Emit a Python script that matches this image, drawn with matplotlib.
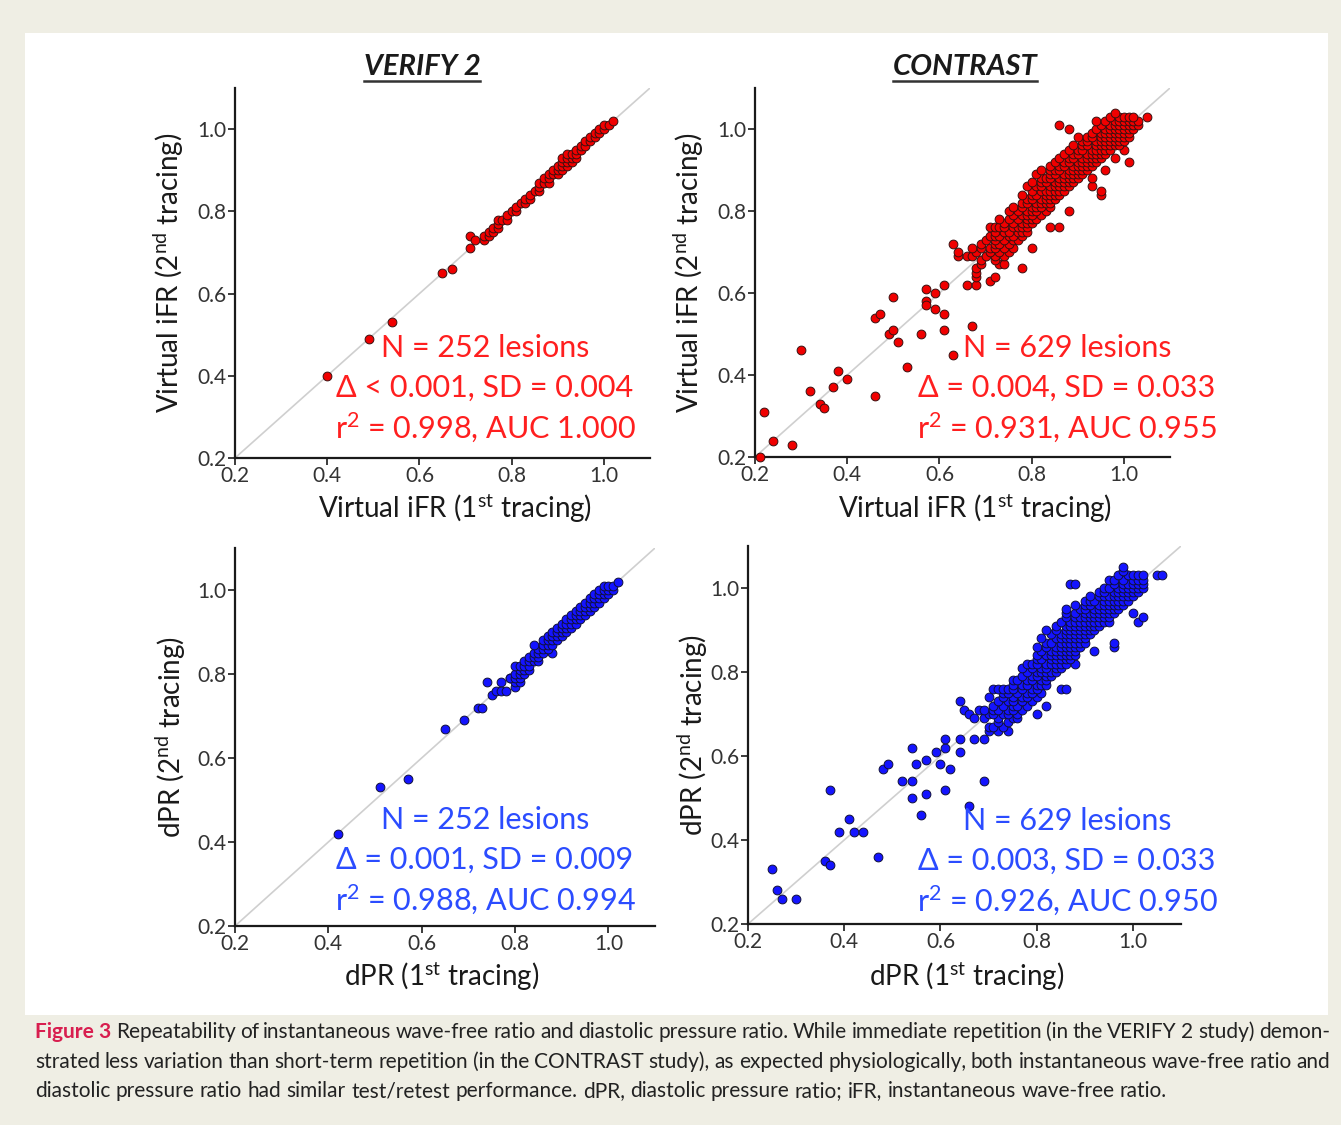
import matplotlib
matplotlib.use("Agg")
import matplotlib.pyplot as plt
from matplotlib import font_manager
from matplotlib.lines import Line2D
from matplotlib.patches import Rectangle

plt.rcParams['font.family'] = ['Lato', 'DejaVu Sans']
plt.rcParams['mathtext.fontset'] = 'custom'
plt.rcParams['mathtext.rm'] = 'Lato'
plt.rcParams['mathtext.it'] = 'Lato:italic'
plt.rcParams['mathtext.bf'] = 'Lato:bold'

# ---- data -----------------------------------------------------------------
ticks = [0.2, 0.4, 0.6, 0.8, 1.0]
tick_labels = ['0.2', '0.4', '0.6', '0.8', '1.0']

# VERIFY 2, virtual iFR: stray points, then the tight band (y: list of x)
verify_ifr_x = [0.40, 0.49, 0.54, 0.65, 0.67, 0.71, 0.71, 0.72]
verify_ifr_y = [0.40, 0.49, 0.53, 0.65, 0.66, 0.71, 0.74, 0.73]
verify_ifr_rows = {
    0.73: [0.74], 0.74: [0.74, 0.75], 0.75: [0.75, 0.76], 0.76: [0.76, 0.77],
    0.77: [0.77], 0.78: [0.77, 0.78, 0.79], 0.79: [0.79], 0.80: [0.80, 0.81],
    0.81: [0.81], 0.82: [0.82, 0.83], 0.83: [0.83, 0.84], 0.84: [0.84],
    0.85: [0.85, 0.86], 0.86: [0.86], 0.87: [0.86, 0.87, 0.88],
    0.88: [0.87, 0.88], 0.89: [0.88, 0.89, 0.90], 0.90: [0.89, 0.90, 0.91],
    0.91: [0.90, 0.91, 0.92], 0.92: [0.91, 0.92, 0.93],
    0.93: [0.91, 0.92, 0.93, 0.94], 0.94: [0.92, 0.93, 0.94],
    0.95: [0.94, 0.95], 0.96: [0.95, 0.96], 0.97: [0.96, 0.97],
    0.98: [0.97, 0.98], 0.99: [0.98, 0.99], 1.00: [0.99, 1.00],
    1.01: [1.00, 1.01], 1.02: [1.02],
}

# CONTRAST, virtual iFR
contrast_ifr_x = [0.21, 0.22, 0.24, 0.28, 0.30, 0.32, 0.34, 0.35, 0.37, 0.38,
                  0.40, 0.46, 0.47, 0.46, 0.50, 0.49, 0.50, 0.51, 0.53, 0.56,
                  0.57, 0.57, 0.57, 0.59, 0.59, 0.61, 0.61, 0.61, 0.63, 0.67,
                  0.66, 0.68, 0.68, 0.68, 0.71, 0.72]
contrast_ifr_y = [0.20, 0.31, 0.24, 0.23, 0.46, 0.36, 0.33, 0.32, 0.37, 0.41,
                  0.39, 0.54, 0.55, 0.35, 0.59, 0.50, 0.51, 0.48, 0.42, 0.50,
                  0.61, 0.58, 0.57, 0.60, 0.56, 0.62, 0.55, 0.51, 0.45, 0.52,
                  0.62, 0.62, 0.64, 0.65, 0.63, 0.64]
contrast_ifr_rows = {
    0.66: [0.68, 0.78], 0.67: [0.69, 0.73, 0.74], 0.68: [0.69, 0.72],
    0.69: [0.64, 0.66, 0.67, 0.70, 0.72, 0.74],
    0.70: [0.64, 0.68, 0.71, 0.73, 0.75],
    0.71: [0.67, 0.69, 0.71, 0.72, 0.74, 0.76, 0.80],
    0.72: [0.63, 0.69, 0.72, 0.73, 0.75],
    0.73: [0.70, 0.72, 0.74, 0.76, 0.77],
    0.74: [0.71, 0.72, 0.73, 0.75, 0.76, 0.78],
    0.75: [0.72, 0.74, 0.75, 0.77, 0.78, 0.79],
    0.76: [0.71, 0.72, 0.73, 0.74, 0.76, 0.77, 0.78, 0.79, 0.84, 0.86],
    0.77: [0.74, 0.76, 0.78, 0.79, 0.80],
    0.78: [0.73, 0.75, 0.77, 0.79, 0.80, 0.81],
    0.79: [0.76, 0.78, 0.79, 0.80, 0.82],
    0.80: [0.75, 0.77, 0.79, 0.80, 0.81, 0.83, 0.88],
    0.81: [0.76, 0.78, 0.80, 0.81, 0.82, 0.84],
    0.82: [0.78, 0.79, 0.81, 0.82, 0.83, 0.84],
    0.83: [0.79, 0.80, 0.82, 0.83, 0.84, 0.85],
    0.84: [0.78, 0.80, 0.81, 0.83, 0.84, 0.85, 0.86, 0.95],
    0.85: [0.80, 0.82, 0.83, 0.84, 0.85, 0.86, 0.87, 0.95],
    0.86: [0.79, 0.81, 0.82, 0.84, 0.85, 0.86, 0.87, 0.88, 0.93],
    0.87: [0.80, 0.82, 0.83, 0.85, 0.86, 0.87, 0.88, 0.89],
    0.88: [0.82, 0.83, 0.84, 0.86, 0.87, 0.88, 0.89, 0.90, 0.93],
    0.89: [0.81, 0.84, 0.85, 0.87, 0.88, 0.89, 0.90, 0.91],
    0.90: [0.82, 0.84, 0.85, 0.86, 0.88, 0.89, 0.90, 0.91, 0.92, 0.96],
    0.91: [0.84, 0.86, 0.87, 0.89, 0.90, 0.91, 0.92, 0.93],
    0.92: [0.85, 0.87, 0.88, 0.90, 0.91, 0.92, 0.93, 0.94, 1.01],
    0.93: [0.86, 0.88, 0.89, 0.91, 0.92, 0.93, 0.94, 0.95, 0.98],
    0.94: [0.87, 0.89, 0.90, 0.92, 0.93, 0.94, 0.95, 0.96],
    0.95: [0.88, 0.90, 0.91, 0.93, 0.94, 0.95, 0.96, 0.97, 1.00],
    0.96: [0.89, 0.91, 0.92, 0.94, 0.95, 0.96, 0.97, 0.98, 0.99],
    0.97: [0.91, 0.92, 0.94, 0.95, 0.96, 0.97, 0.98, 0.99, 1.00],
    0.98: [0.90, 0.92, 0.93, 0.95, 0.96, 0.97, 0.98, 0.99, 1.00, 1.01],
    0.99: [0.93, 0.95, 0.96, 0.97, 0.98, 0.99, 1.00, 1.01],
    1.00: [0.88, 0.94, 0.96, 0.97, 0.98, 0.99, 1.00, 1.01, 1.02],
    1.01: [0.86, 0.95, 0.97, 0.98, 0.99, 1.00, 1.01, 1.02, 1.03],
    1.02: [0.94, 0.96, 0.98, 0.99, 1.00, 1.01, 1.02, 1.03],
    1.03: [0.97, 0.99, 1.00, 1.01, 1.02, 1.05],
    1.04: [0.98],
}

# VERIFY 2, dPR
verify_dpr_x = [0.42, 0.51, 0.57, 0.65, 0.69, 0.72, 0.73, 0.74, 0.75, 0.76,
                0.77, 0.77, 0.78, 0.79]
verify_dpr_y = [0.42, 0.53, 0.55, 0.67, 0.69, 0.72, 0.72, 0.78, 0.75, 0.76,
                0.78, 0.76, 0.76, 0.79]
verify_dpr_rows = {
    0.77: [0.80], 0.78: [0.80, 0.81], 0.79: [0.79, 0.80, 0.81],
    0.80: [0.80, 0.81, 0.82], 0.81: [0.81, 0.82, 0.83],
    0.82: [0.80, 0.81, 0.82, 0.83], 0.83: [0.82, 0.83, 0.84, 0.85],
    0.84: [0.83, 0.84, 0.85], 0.85: [0.84, 0.85, 0.86, 0.88],
    0.86: [0.85, 0.86, 0.87], 0.87: [0.84, 0.86, 0.87, 0.88],
    0.88: [0.86, 0.87, 0.88, 0.89], 0.89: [0.87, 0.88, 0.89, 0.90],
    0.90: [0.88, 0.89, 0.90, 0.91], 0.91: [0.89, 0.90, 0.91, 0.92],
    0.92: [0.90, 0.91, 0.92, 0.93], 0.93: [0.91, 0.92, 0.93, 0.94],
    0.94: [0.92, 0.93, 0.94, 0.95], 0.95: [0.93, 0.94, 0.95, 0.96],
    0.96: [0.94, 0.95, 0.96, 0.97], 0.97: [0.95, 0.96, 0.97, 0.98],
    0.98: [0.96, 0.97, 0.98, 0.99], 0.99: [0.97, 0.98, 0.99, 1.00],
    1.00: [0.98, 0.99, 1.00, 1.01], 1.01: [0.99, 1.00, 1.01],
    1.02: [1.02],
}

# CONTRAST, dPR
contrast_dpr_x = [0.25, 0.26, 0.27, 0.30, 0.36, 0.37, 0.37, 0.39, 0.41, 0.42,
                  0.44, 0.47, 0.48, 0.49, 0.52, 0.54, 0.54, 0.54, 0.55, 0.56,
                  0.57, 0.57, 0.59, 0.60, 0.61, 0.61, 0.61, 0.62, 0.64, 0.64,
                  0.64, 0.66, 0.67, 0.69, 0.69, 0.65, 0.66, 0.67]
contrast_dpr_y = [0.33, 0.28, 0.26, 0.26, 0.35, 0.34, 0.52, 0.42, 0.45, 0.42,
                  0.42, 0.36, 0.57, 0.58, 0.54, 0.54, 0.62, 0.50, 0.58, 0.46,
                  0.51, 0.59, 0.61, 0.58, 0.62, 0.64, 0.52, 0.57, 0.64, 0.61,
                  0.73, 0.48, 0.64, 0.64, 0.54, 0.71, 0.70, 0.69]
contrast_dpr_rows = {
    0.66: [0.70, 0.72, 0.74], 0.67: [0.70, 0.71, 0.73], 0.68: [0.72, 0.74],
    0.69: [0.69, 0.72, 0.75, 0.76],
    0.70: [0.70, 0.71, 0.73, 0.74, 0.76, 0.80],
    0.71: [0.68, 0.69, 0.71, 0.72, 0.74, 0.75, 0.77],
    0.72: [0.71, 0.73, 0.75, 0.76, 0.78, 0.82],
    0.73: [0.72, 0.74, 0.75, 0.77, 0.79],
    0.74: [0.70, 0.73, 0.75, 0.77, 0.78, 0.80],
    0.75: [0.73, 0.74, 0.76, 0.78, 0.79, 0.81],
    0.76: [0.71, 0.72, 0.73, 0.74, 0.75, 0.77, 0.79, 0.80, 0.85, 0.86],
    0.77: [0.75, 0.77, 0.78, 0.80, 0.81, 0.82],
    0.78: [0.75, 0.76, 0.78, 0.79, 0.81, 0.82],
    0.79: [0.77, 0.79, 0.80, 0.82, 0.83],
    0.80: [0.78, 0.80, 0.81, 0.82, 0.83, 0.84],
    0.81: [0.77, 0.79, 0.81, 0.82, 0.84, 0.85],
    0.82: [0.78, 0.79, 0.80, 0.82, 0.83, 0.84, 0.85, 0.86, 0.88],
    0.83: [0.80, 0.81, 0.83, 0.84, 0.85, 0.86, 0.87],
    0.84: [0.80, 0.82, 0.83, 0.84, 0.85, 0.86, 0.87, 0.88],
    0.85: [0.81, 0.83, 0.84, 0.85, 0.86, 0.87, 0.88, 0.92],
    0.86: [0.80, 0.82, 0.84, 0.85, 0.86, 0.87, 0.88, 0.89, 0.96],
    0.87: [0.82, 0.83, 0.85, 0.86, 0.87, 0.88, 0.89, 0.90, 0.96],
    0.88: [0.81, 0.84, 0.85, 0.86, 0.87, 0.88, 0.89, 0.90],
    0.89: [0.83, 0.85, 0.86, 0.87, 0.88, 0.89, 0.90, 0.91],
    0.90: [0.82, 0.84, 0.86, 0.87, 0.88, 0.89, 0.90, 0.91, 0.92],
    0.91: [0.84, 0.86, 0.87, 0.88, 0.89, 0.90, 0.91, 0.92, 0.93],
    0.92: [0.85, 0.87, 0.88, 0.89, 0.90, 0.91, 0.92, 0.93, 0.94, 0.95, 1.01],
    0.93: [0.86, 0.88, 0.89, 0.90, 0.91, 0.92, 0.93, 0.94, 0.95, 1.02],
    0.94: [0.86, 0.88, 0.90, 0.91, 0.92, 0.93, 0.94, 0.95, 0.96, 1.00],
    0.95: [0.86, 0.89, 0.90, 0.92, 0.93, 0.94, 0.95, 0.96, 0.97],
    0.96: [0.88, 0.90, 0.91, 0.93, 0.94, 0.95, 0.96, 0.97, 0.98],
    0.97: [0.90, 0.91, 0.92, 0.94, 0.95, 0.96, 0.97, 0.98, 0.99],
    0.98: [0.91, 0.93, 0.94, 0.95, 0.96, 0.97, 0.98, 0.99, 1.00],
    0.99: [0.93, 0.94, 0.96, 0.97, 0.98, 0.99, 1.00, 1.01],
    1.00: [0.94, 0.95, 0.97, 0.98, 0.99, 1.00, 1.01, 1.02],
    1.01: [0.87, 0.88, 0.96, 0.98, 0.99, 1.00, 1.01, 1.02],
    1.02: [0.95, 0.96, 0.98, 1.00, 1.01, 1.02],
    1.03: [0.97, 0.99, 1.00, 1.01, 1.02, 1.05, 1.06],
    1.04: [0.98], 1.05: [0.98],
}

titles = ['VERIFY 2', 'CONTRAST']
stats_text = [
    ['N = 252 lesions', '\u0394 < 0.001, SD = 0.004', r'r$^{2}$ = 0.998, AUC 1.000'],
    ['N = 629 lesions', '\u0394 = 0.004, SD = 0.033', r'r$^{2}$ = 0.931, AUC 0.955'],
    ['N = 252 lesions', '\u0394 = 0.001, SD = 0.009', r'r$^{2}$ = 0.988, AUC 0.994'],
    ['N = 629 lesions', '\u0394 = 0.003, SD = 0.033', r'r$^{2}$ = 0.926, AUC 0.950'],
]
xlabels = [r'Virtual iFR (1$^{\mathrm{st}}$ tracing)', r'Virtual iFR (1$^{\mathrm{st}}$ tracing)',
           r'dPR (1$^{\mathrm{st}}$ tracing)', r'dPR (1$^{\mathrm{st}}$ tracing)']
ylabels = [r'Virtual iFR (2$^{\mathrm{nd}}$ tracing)', r'Virtual iFR (2$^{\mathrm{nd}}$ tracing)',
           r'dPR (2$^{\mathrm{nd}}$ tracing)', r'dPR (2$^{\mathrm{nd}}$ tracing)']

caption_head = 'Figure 3'
caption_lines = [
    'Repeatability of instantaneous wave-free ratio and diastolic pressure ratio. '
    'While immediate repetition (in the VERIFY 2 study) demon-',
    'strated less variation than short-term repetition (in the CONTRAST study), '
    'as expected physiologically, both instantaneous wave-free ratio and',
    'diastolic pressure ratio had similar test/retest performance. dPR, diastolic '
    'pressure ratio; iFR, instantaneous wave-free ratio.',
]


def unpack(xs, ys, rows):
    px, py = list(xs), list(ys)
    for yv, row in rows.items():
        for xv in row:
            px.append(xv)
            py.append(yv)
    return px, py


W, H = 1341, 1125
fig = plt.figure(figsize=(W / 100, H / 100), dpi=100, facecolor='#efeee4')
fig.add_artist(Rectangle((25 / W, 1 - 1015 / H), (1328 - 25) / W, (1015 - 33) / H,
                         transform=fig.transFigure, facecolor='white', edgecolor='none',
                         zorder=-10))

def px2fig(x, y):
    return x / W, 1 - y / H

# axes rectangles (pixels: left, bottom-y, width, height)
boxes = [(235, 458, 415, 370), (755, 457, 415, 369), (235, 926, 420, 378), (748, 924, 433, 378)]
ylab_pos = [-0.16, -0.16, -0.152, -0.128]
xlab_pos = [(0.53, -0.135), (0.53, -0.138), (0.493, -0.132), (0.506, -0.138)]
stats_pos = [(485, 348), (1067, 348), (485, 820), (1067, 821)]

panels = [
    unpack(verify_ifr_x, verify_ifr_y, verify_ifr_rows),
    unpack(contrast_ifr_x, contrast_ifr_y, contrast_ifr_rows),
    unpack(verify_dpr_x, verify_dpr_y, verify_dpr_rows),
    unpack(contrast_dpr_x, contrast_dpr_y, contrast_dpr_rows),
]
colors = ['#f00000', '#f00000', '#1414ff', '#1414ff']
text_colors = ['#ff1f1f', '#ff1f1f', '#2b4cff', '#2b4cff']

for i, ((x, y), (l, b, w, h)) in enumerate(zip(panels, boxes)):
    ax = fig.add_axes([l / W, 1 - b / H, w / W, h / H])
    ax.plot([0.2, 1.1], [0.2, 1.1], color='#cfcfcf', lw=1.2, zorder=1)
    ax.scatter(x, y, s=40, c=colors[i], edgecolors='#3a1010' if i < 2 else '#10103a',
               linewidths=0.7, zorder=3, clip_on=False)
    ax.set_xlim(0.2, 1.1)
    ax.set_ylim(0.2, 1.1)
    ax.set_xticks(ticks)
    ax.set_xticklabels(tick_labels)
    ax.set_yticks(ticks)
    ax.set_yticklabels(tick_labels)
    for s in ['top', 'right']:
        ax.spines[s].set_visible(False)
    for s in ['left', 'bottom']:
        ax.spines[s].set_linewidth(1.6)
        ax.spines[s].set_color('#1a1a1a')
    ax.tick_params(direction='out', length=5, width=1.2, color='#1a1a1a',
                   labelsize=15, labelcolor='#333333', pad=1)
    ax.set_facecolor('none')
    ax.set_ylabel(ylabels[i], fontsize=20, color='#1a1a1a')
    ax.yaxis.set_label_coords(ylab_pos[i], 0.5)
    ax.set_xlabel(xlabels[i], fontsize=20, color='#1a1a1a')
    ax.xaxis.set_label_coords(*xlab_pos[i])
    ax.xaxis.label.set_va('center')
    ax.yaxis.label.set_va('center')
    sx, sy = stats_pos[i]
    for k, line in enumerate(stats_text[i]):
        fx, fy = px2fig(sx, sy + 40 * k)
        fig.text(fx, fy, line, ha='center', va='center', fontsize=22,
                 color=text_colors[i])

renderer = fig.canvas.get_renderer()

# titles with underline
for t, cx in zip(titles, [422, 965]):
    fx, fy = px2fig(cx, 67)
    txt = fig.text(fx, fy, t, ha='center', va='center', fontsize=21,
                   fontweight='bold', fontstyle='italic', color='#1a1a1a')
    bb = txt.get_window_extent(renderer)
    uy = 1 - 81 / H
    fig.add_artist(Line2D([bb.x0 / W, bb.x1 / W], [uy, uy], transform=fig.transFigure,
                          color='#333333', lw=1.8))

# caption, first two lines justified word by word
names = {f.name for f in font_manager.fontManager.ttflist}
cap_font = ['Liberation Sans Narrow', 'DejaVu Sans'] if 'Liberation Sans Narrow' in names \
    else ['Lato', 'DejaVu Sans']
cap_size = 15
left_px, right_px = 35, 1330
line_y = [1038, 1068, 1097]   # baselines

for li, line in enumerate(caption_lines):
    words = line.split(' ')
    items = []
    if li == 0:
        items.append((caption_head, dict(fontweight='bold', color='#d81e4f')))
    for wd in words:
        items.append((wd, dict(color='#222222')))
    fy = 1 - line_y[li] / H
    arts = []
    for wd, kw in items:
        a = fig.text(0, fy, wd, ha='left', va='baseline', fontsize=cap_size,
                     family=cap_font, **kw)
        arts.append(a)
    widths = [a.get_window_extent(renderer).width for a in arts]
    if li < 2:
        gap = (right_px - left_px - sum(widths)) / (len(arts) - 1)
    else:
        sp = fig.text(0, 0, 'a a', fontsize=cap_size, family=cap_font)
        sp2 = fig.text(0, 0, 'aa', fontsize=cap_size, family=cap_font)
        gap = sp.get_window_extent(renderer).width - sp2.get_window_extent(renderer).width
        sp.remove()
        sp2.remove()
    xpos = left_px
    for a, wdt in zip(arts, widths):
        a.set_x(xpos / W)
        xpos += wdt + gap

fig.savefig('out.png', dpi=100, facecolor=fig.get_facecolor())
